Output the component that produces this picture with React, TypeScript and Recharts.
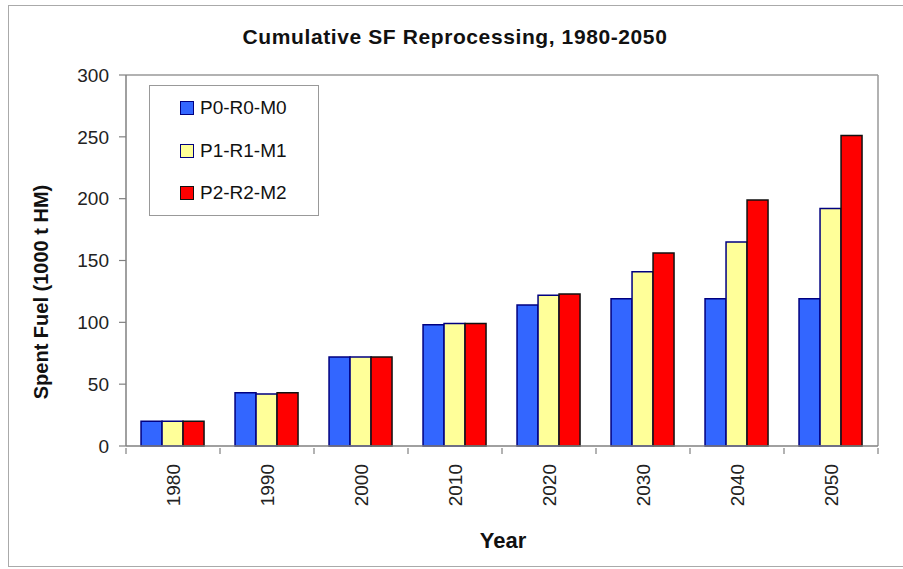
import React from 'react';
import { BarChart, Bar, XAxis, YAxis } from 'recharts';

// categories and series
const years = ['1980', '1990', '2000', '2010', '2020', '2030', '2040', '2050'];
const p0 = [20, 43, 72, 98, 114, 119, 119, 119];
const p1 = [20, 42, 72, 99, 122, 141, 165, 192];
const p2 = [20, 43, 72, 99, 123, 156, 199, 251];
const yTicks = [0, 50, 100, 150, 200, 250, 300];

const seriesNames = ['P0-R0-M0', 'P1-R1-M1', 'P2-R2-M2'];
const fills = ['#3366FF', '#FFFF99', '#FF0000'];
const strokes = ['#000080', '#000080', '#111111'];

const data = years.map((year, i) => ({ year, p0: p0[i], p1: p1[i], p2: p2[i] }));
const keys = ['p0', 'p1', 'p2'];

const FONT = '"Liberation Sans", Arial, sans-serif';

const XTick = (props: any) => {
    const { x, y, payload, index } = props;
    const half = payload && payload.offset ? payload.offset : 47;
    return (
        <g>
            <line x1={x - half} x2={x - half} y1={y} y2={y + 6} stroke="#808080" strokeWidth={1.2} />
            {index === years.length - 1 && (
                <line x1={x + half} x2={x + half} y1={y} y2={y + 6} stroke="#808080" strokeWidth={1.2} />
            )}
            <text
                transform={`translate(${x + 7},${y + 16}) rotate(-90)`}
                textAnchor="end"
                fontSize={19}
                fontFamily={FONT}
                fill="#222"
            >
                {payload.value}
            </text>
        </g>
    );
};

function ChartLegend() {
    return (
        <div style={{
            position: 'absolute', left: 149, top: 85, width: 170, height: 131, boxSizing: 'border-box',
            border: '1.5px solid #999', background: '#fff', fontSize: 19, color: '#111'
        }}>
            {seriesNames.map((name, i) => (
                <div key={name} style={{ position: 'absolute', left: 30, top: 10 + i * 42.5, display: 'flex', alignItems: 'center', height: 24 }}>
                    <span style={{
                        display: 'inline-block', width: 12, height: 12, background: fills[i],
                        border: `1.5px solid ${strokes[i]}`, marginRight: 6
                    }} />
                    <span>{name}</span>
                </div>
            ))}
        </div>
    );
}

export default function App() {
    return (
        <div style={{ position: 'absolute', left: 0, top: 0, width: 903, height: 569, background: '#fff', fontFamily: FONT }}>
            <div style={{ position: 'absolute', left: 8, top: 5, width: 900, height: 560, border: '1.5px solid #aaa', borderRight: 'none' }} />

            <BarChart
                width={903}
                height={569}
                data={data}
                margin={{ top: 74, right: 24, bottom: 63, left: 66 }}
                barCategoryGap="16%"
                barGap={0}
            >
                <XAxis xAxisId="top" orientation="top" dataKey="year" height={1} tick={false} tickLine={false} axisLine={{ stroke: '#999', strokeWidth: 1.5 }} />
                <YAxis yAxisId="right" orientation="right" width={1} domain={[0, 300]} tick={false} tickLine={false} axisLine={{ stroke: '#999', strokeWidth: 1.5 }} />
                <XAxis
                    xAxisId="main"
                    dataKey="year"
                    height={60}
                    tickSize={0}
                    tickLine={false}
                    interval={0}
                    axisLine={{ stroke: '#808080', strokeWidth: 1.5 }}
                    tick={<XTick />}
                />
                <YAxis
                    yAxisId="left"
                    width={60}
                    domain={[0, 300]}
                    ticks={yTicks}
                    tickSize={7}
                    tickMargin={10}
                    axisLine={{ stroke: '#808080', strokeWidth: 1.5 }}
                    tickLine={{ stroke: '#808080', strokeWidth: 1.2 }}
                    tick={{ fontSize: 19, fontFamily: FONT, fill: '#222' }}
                />
                {keys.map((k, i) => (
                    <Bar key={k} xAxisId="main" yAxisId="left" dataKey={k} name={seriesNames[i]} fill={fills[i]} stroke={strokes[i]} strokeWidth={1.5} isAnimationActive={false} />
                ))}
            </BarChart>

            <ChartLegend />

            <div style={{ position: 'absolute', left: 455, top: 26, transform: 'translateX(-50%)', whiteSpace: 'nowrap', fontSize: 21, lineHeight: '21px', fontWeight: 'bold', letterSpacing: 0.6, color: '#111' }}>
                Cumulative SF Reprocessing, 1980-2050
            </div>
            <div style={{ position: 'absolute', left: 41, top: 292, transform: 'translate(-50%, -50%) rotate(-90deg)', whiteSpace: 'nowrap', fontSize: 20, lineHeight: '20px', fontWeight: 'bold', color: '#111' }}>
                Spent Fuel (1000 t HM)
            </div>
            <div style={{ position: 'absolute', left: 503, top: 530, transform: 'translateX(-50%)', whiteSpace: 'nowrap', fontSize: 22, lineHeight: '22px', fontWeight: 'bold', color: '#111' }}>
                Year
            </div>
        </div>
    );
}
